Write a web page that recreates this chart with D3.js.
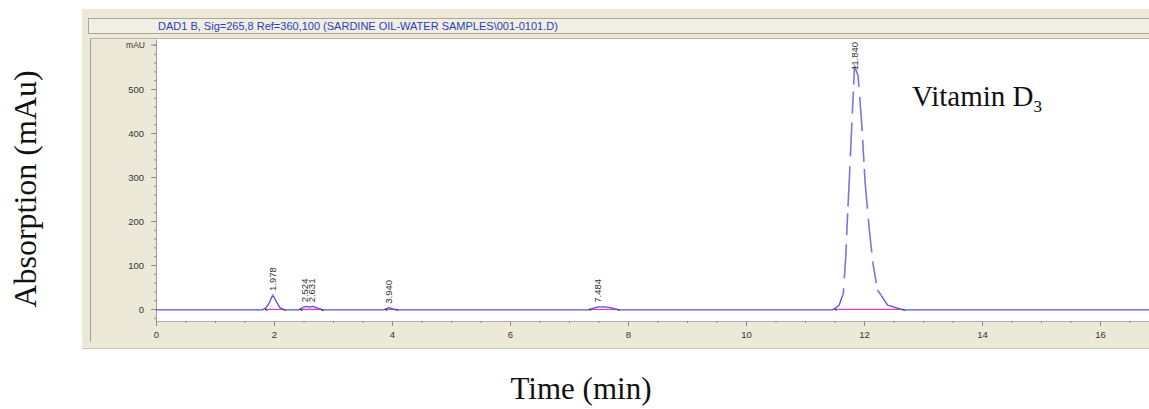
<!DOCTYPE html>
<html>
<head>
<meta charset="utf-8">
<script src="https://cdn.jsdelivr.net/npm/d3@7/dist/d3.min.js"></script>
<style>
  html, body { margin: 0; padding: 0; background: #fff; }
  svg { display: block; }
  .tick text { font-family: "Liberation Sans", Arial, sans-serif; }
</style>
</head>
<body>
<svg id="chart" width="1149" height="409"></svg>
<script>
// Chromatogram trace (retention time in min, absorbance in mAU)
const traceTime = [0, 1.80, 1.86, 1.92, 1.98, 2.04, 2.10, 2.17, 2.42, 2.50, 2.55, 2.60, 2.66, 2.74, 2.82,
  3.86, 3.95, 4.06, 7.32, 7.42, 7.50, 7.60, 7.70, 7.84,
  11.46, 11.52, 11.58, 11.65, 11.69, 11.72, 11.75, 11.79, 11.84, 11.90, 11.96, 12.02, 12.09, 12.15, 12.23, 12.40, 12.66, 16.9];
const traceValue = [-2, -2, 2, 14, 32, 17, 3, -2, -2, 4, 6, 4, 6, 2, -2,
  -2, 3, -2, -2, 2, 5, 5, 3, -2,
  -2, 2, 9, 36, 118, 209, 290, 410, 552, 530, 423, 286, 180, 105, 43, 9, -2, -2];

// Integrated peaks: apex retention time and integration window
const peakTimes = [1.978, 2.524, 2.631, 3.940, 7.484, 11.840];
const peakLabels = ["1.978", "2.524", "2.631", "3.940", "7.484", "11.840"];
const peakApex = [32, 6, 6, 3, 5, 552];
const baseStart = [1.85, 2.44, 2.44, 3.88, 7.34, 11.50];
const baseEnd = [2.16, 2.80, 2.80, 4.07, 7.82, 12.66];

// Axis ticks
const yMajorTicks = [0, 100, 200, 300, 400, 500];
const yMinorTicks = d3.range(-20, 601, 20);
const xMajorTicks = [0, 2, 4, 6, 8, 10, 12, 14, 16];
const xMinorTicks = d3.range(0, 16.9, 0.5);

const titleText = "DAD1 B, Sig=265,8 Ref=360,100 (SARDINE OIL-WATER SAMPLES\\001-0101.D)";

const svg = d3.select("#chart");
const defs = svg.append("defs");

// Window panel
svg.append("rect").attr("x", 82).attr("y", 9).attr("width", 1067).attr("height", 340)
  .attr("fill", "#ece9d8");
svg.append("line").attr("x1", 82).attr("x2", 1149).attr("y1", 348.5).attr("y2", 348.5)
  .attr("stroke", "#c9c6b8");
// Signal description bar
svg.append("rect").attr("x", 88.5).attr("y", 18.5).attr("width", 1061).attr("height", 15)
  .attr("fill", "#f1efe5").attr("stroke", "#a9a799");
svg.append("text").attr("x", 158).attr("y", 30)
  .attr("font-family", "Liberation Sans, Arial, sans-serif").attr("font-size", 11)
  .attr("fill", "#2b3db8").text(titleText);
// Graph frame
svg.append("line").attr("x1", 90.5).attr("x2", 90.5).attr("y1", 38).attr("y2", 342)
  .attr("stroke", "#a3a093");
svg.append("line").attr("x1", 90).attr("x2", 1149).attr("y1", 38.5).attr("y2", 38.5)
  .attr("stroke", "#b8b5a8");

const plot = { left: 156, right: 1149, top: 39, bottom: 321 };
svg.append("rect").attr("x", plot.left).attr("y", plot.top)
  .attr("width", plot.right - plot.left).attr("height", plot.bottom - plot.top)
  .attr("fill", "#fff");

const x = d3.scaleLinear().domain([0, (plot.right - plot.left) / 59]).range([plot.left, plot.right]);
const y = d3.scaleLinear().domain([-27.3, 613.6]).range([plot.bottom, plot.top]);

// Y axis
const yMinor = svg.append("g").attr("transform", `translate(${plot.left},0)`)
  .call(d3.axisLeft(y).tickValues(yMinorTicks).tickSize(2).tickFormat(""));
yMinor.select(".domain").remove();
yMinor.selectAll("line").attr("stroke", "#8a8a8a");
const yAxis = svg.append("g").attr("transform", `translate(${plot.left},0)`)
  .call(d3.axisLeft(y).tickValues(yMajorTicks).tickSize(5).tickPadding(7).tickSizeOuter(0));
yAxis.select(".domain").attr("stroke", "#9a9a9a");
yAxis.selectAll(".tick line").attr("stroke", "#8a8a8a");
yAxis.selectAll(".tick text").attr("font-size", 9.5).attr("fill", "#333");
svg.append("text").attr("x", plot.left - 11).attr("y", y(600) + 3)
  .attr("text-anchor", "end").attr("font-family", "Liberation Sans, Arial, sans-serif")
  .attr("font-size", 8.5).attr("fill", "#333").text("mAU");
svg.append("line").attr("x1", plot.left - 5).attr("x2", plot.left).attr("y1", y(600)).attr("y2", y(600))
  .attr("stroke", "#8a8a8a");

// X axis
const xMinor = svg.append("g").attr("transform", `translate(0,${plot.bottom})`)
  .call(d3.axisBottom(x).tickValues(xMinorTicks).tickSize(2).tickFormat(""));
xMinor.select(".domain").attr("stroke", "#b0b0b0");
xMinor.selectAll("line").attr("stroke", "#8a8a8a");
const xAxis = svg.append("g").attr("transform", `translate(0,${plot.bottom})`)
  .call(d3.axisBottom(x).tickValues(xMajorTicks).tickSize(5).tickPadding(5).tickSizeOuter(0));
xAxis.select(".domain").remove();
xAxis.selectAll(".tick line").attr("stroke", "#8a8a8a");
xAxis.selectAll(".tick text").attr("font-size", 9.5).attr("fill", "#333");

// Integration baselines
const peaks = peakTimes.map((t, i) => ({ t, label: peakLabels[i], apex: peakApex[i], s: baseStart[i], e: baseEnd[i] }));
svg.append("g").selectAll("line").data(peaks).join("line")
  .attr("x1", d => x(d.s)).attr("x2", d => x(d.e))
  .attr("y1", y(-1)).attr("y2", y(-1))
  .attr("stroke", "#e03cc4").attr("stroke-width", 1.3);

// Signal trace: low part drawn solid, tall part of the main peak drawn in broken strokes
const splitY = y(30);
defs.append("clipPath").attr("id", "clipLow").append("rect")
  .attr("x", plot.left).attr("y", splitY).attr("width", plot.right - plot.left).attr("height", plot.bottom - splitY);
defs.append("clipPath").attr("id", "clipHigh").append("rect")
  .attr("x", plot.left).attr("y", plot.top).attr("width", plot.right - plot.left).attr("height", splitY - plot.top);

const line = d3.line().x(d => x(d[0])).y(d => y(d[1]));
const traceData = traceTime.map((t, i) => [t, traceValue[i]]);
svg.append("path").datum(traceData).attr("clip-path", "url(#clipLow)")
  .attr("d", line).attr("fill", "none")
  .attr("stroke", "#5353d6").attr("stroke-width", 1.3).attr("stroke-linejoin", "round");
svg.append("path").datum(traceData).attr("clip-path", "url(#clipHigh)")
  .attr("d", line).attr("fill", "none")
  .attr("stroke", "#7676e0").attr("stroke-width", 1.6).attr("stroke-linejoin", "round")
  .attr("stroke-dasharray", "34,9,22,7,40,10");

// Peak start/end markers
const marks = peaks.flatMap(d => [d.s, d.e]);
svg.append("g").selectAll("line").data(marks).join("line")
  .attr("x1", d => x(d)).attr("x2", d => x(d) + 2)
  .attr("y1", y(-2) - 1).attr("y2", y(-2) + 1)
  .attr("stroke", "#222").attr("stroke-width", 1);

// Retention time labels, kept inside the plot area
const labelSize = 9.5;
svg.append("g").selectAll("text").data(peaks).join("text")
  .attr("font-family", "Liberation Sans, Arial, sans-serif").attr("font-size", labelSize)
  .attr("fill", "#333").text(d => d.label)
  .attr("transform", function (d) {
    const len = this.getComputedTextLength();
    const base = Math.max(y(d.apex) - 4, plot.top + 3 + len);
    return `translate(${x(d.t) + 3.5},${base}) rotate(-90)`;
  });

// Annotation and axis titles
const ann = svg.append("text").attr("x", 912).attr("y", 106)
  .attr("font-family", "Liberation Serif, Times New Roman, serif").attr("font-size", 29).attr("fill", "#111");
ann.append("tspan").text("Vitamin D");
ann.append("tspan").attr("font-size", 17).attr("dy", 6).text("3");

svg.append("text").attr("transform", "translate(36,189) rotate(-90)")
  .attr("text-anchor", "middle").attr("font-family", "Liberation Serif, Times New Roman, serif")
  .attr("font-size", 32).attr("fill", "#111").text("Absorption (mAu)");

svg.append("text").attr("x", 581).attr("y", 399)
  .attr("text-anchor", "middle").attr("font-family", "Liberation Serif, Times New Roman, serif")
  .attr("font-size", 31).attr("fill", "#111").text("Time (min)");
</script>
</body>
</html>
